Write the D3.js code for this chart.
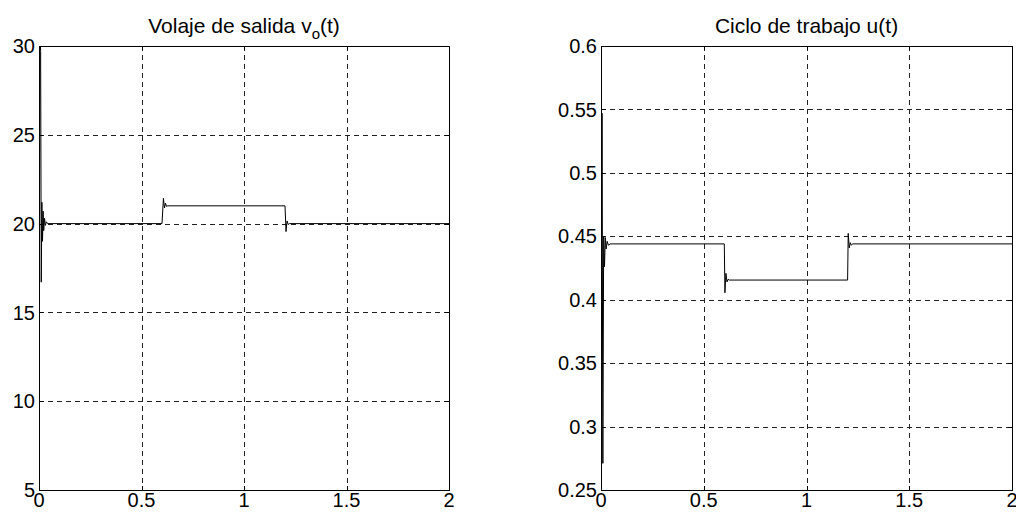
<!DOCTYPE html>
<html>
<head>
<meta charset="utf-8">
<script src="https://cdn.jsdelivr.net/npm/d3@7"></script>
<style>
  body { margin: 0; background: #fff; }
  text { font-family: "Liberation Sans", Arial, sans-serif; fill: #000; }
</style>
</head>
<body>
<div id="chart"></div>
<script>
// shared time ticks
const xTicks = [0, 0.5, 1, 1.5, 2];

// left panel: output voltage
const voTicks = [5, 10, 15, 20, 25, 30];
const voTime = [0, 0.004, 0.008, 0.011, 0.014, 0.017, 0.020, 0.023, 0.027, 0.031, 0.036, 0.042,
  0.6, 0.607, 0.612, 0.617, 0.622, 0.628,
  1.2, 1.205, 1.21, 1.216, 1.222, 2];
const voValue = [0, 31, 29.7, 16.7, 21.2, 19.0, 20.7, 19.6, 20.3, 19.9, 20.1, 20,
  20, 21.42, 20.88, 21.15, 20.97, 21.0,
  21.0, 19.55, 20.15, 19.95, 20.0, 20];

// right panel: duty cycle
const uTicks = [0.25, 0.3, 0.35, 0.4, 0.45, 0.5, 0.55, 0.6];
const uTime = [0, 0.005, 0.009, 0.013, 0.017, 0.021, 0.025, 0.03, 0.036, 0.045,
  0.6, 0.603, 0.608, 0.613, 0.618, 0.625,
  1.2, 1.203, 1.208, 1.213, 1.218, 1.225, 2];
const uValue = [0.2, 0.547, 0.271, 0.45, 0.426, 0.449, 0.440, 0.446, 0.443, 0.444,
  0.444, 0.4055, 0.4208, 0.4140, 0.4160, 0.4155,
  0.4155, 0.4523, 0.4408, 0.4450, 0.4430, 0.444, 0.444];

const W = 1016, H = 522;
const svg = d3.select("#chart").append("svg")
  .attr("width", W).attr("height", H);
svg.append("rect").attr("width", W).attr("height", H).attr("fill", "#fff");

function panel(id, left, right, yDomain, yTicks, times, values, titleParts) {
  const top = 46, bottom = 490;
  const x = d3.scaleLinear().domain([0, 2]).range([left, right]);
  const y = d3.scaleLinear().domain(yDomain).range([bottom, top]);
  const g = svg.append("g");

  svg.append("clipPath").attr("id", id)
    .append("rect").attr("x", left).attr("y", top)
    .attr("width", right - left).attr("height", bottom - top);

  // grid
  g.selectAll(".gx").data(xTicks.slice(1, -1)).enter().append("line")
    .attr("x1", d => Math.round(x(d)) + 0.5).attr("x2", d => Math.round(x(d)) + 0.5)
    .attr("y1", top).attr("y2", bottom)
    .attr("stroke", "#222").attr("stroke-dasharray", "5,4");
  g.selectAll(".gy").data(yTicks.slice(1, -1)).enter().append("line")
    .attr("y1", d => Math.round(y(d)) + 0.5).attr("y2", d => Math.round(y(d)) + 0.5)
    .attr("x1", left).attr("x2", right)
    .attr("stroke", "#222").attr("stroke-dasharray", "5,4");

  // inward ticks on all four sides
  const tl = 4;
  xTicks.forEach(d => {
    const px = Math.round(x(d)) + 0.5;
    g.append("line").attr("x1", px).attr("x2", px).attr("y1", bottom).attr("y2", bottom - tl).attr("stroke", "#000");
    g.append("line").attr("x1", px).attr("x2", px).attr("y1", top).attr("y2", top + tl).attr("stroke", "#000");
  });
  yTicks.forEach(d => {
    const py = Math.round(y(d)) + 0.5;
    g.append("line").attr("x1", left).attr("x2", left + tl).attr("y1", py).attr("y2", py).attr("stroke", "#000");
    g.append("line").attr("x1", right).attr("x2", right - tl).attr("y1", py).attr("y2", py).attr("stroke", "#000");
  });

  // data line
  const pts = times.map((t, i) => [t, values[i]]);
  g.append("path").datum(pts)
    .attr("clip-path", `url(#${id})`)
    .attr("fill", "none").attr("stroke", "#000").attr("stroke-width", 1)
    .attr("d", d3.line().x(d => x(d[0])).y(d => y(d[1])));

  // box
  g.append("rect").attr("x", left + 0.5).attr("y", top + 0.5)
    .attr("width", right - left).attr("height", bottom - top)
    .attr("fill", "none").attr("stroke", "#000").attr("stroke-width", 1);

  // tick labels
  g.selectAll(".lx").data(xTicks).enter().append("text")
    .attr("x", d => x(d)).attr("y", 507)
    .attr("text-anchor", "middle").attr("font-size", 20)
    .text(d => d);
  g.selectAll(".ly").data(yTicks).enter().append("text")
    .attr("x", left - 4).attr("y", d => y(d)).attr("dy", "0.36em")
    .attr("text-anchor", "end").attr("font-size", 20)
    .text(d => d);

  // title
  const t = g.append("text").attr("x", (left + right) / 2).attr("y", 33)
    .attr("text-anchor", "middle").attr("font-size", 21);
  titleParts.forEach(p => {
    const s = t.append("tspan").text(p.text);
    if (p.sub) s.attr("font-size", 15).attr("dy", 6);
    if (p.after) s.attr("dy", -6);
  });
}

panel("clipL", 39, 449, [5, 30], voTicks, voTime, voValue,
  [{ text: "Volaje de salida v" }, { text: "o", sub: true }, { text: "(t)", after: true }]);
panel("clipR", 601, 1012, [0.25, 0.6], uTicks, uTime, uValue,
  [{ text: "Ciclo de trabajo u(t)" }]);
</script>
</body>
</html>
